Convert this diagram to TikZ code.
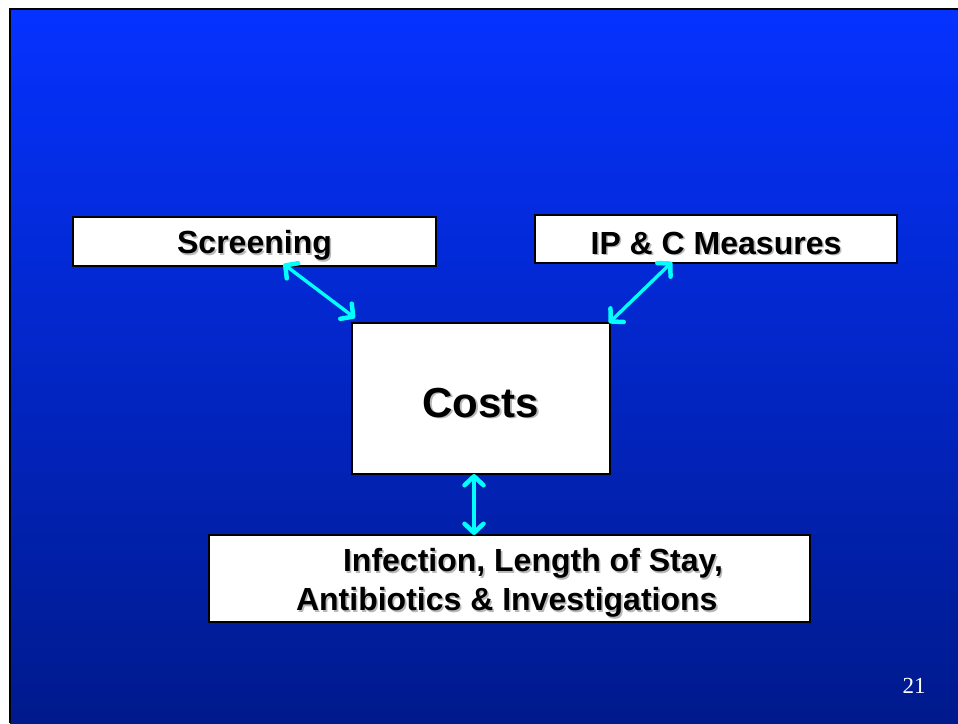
\documentclass[tikz,border=0pt]{standalone}
\usepackage{fontspec}
\setmainfont{Liberation Sans}
\newfontfamily\pagenumfont{Liberation Serif}
\usetikzlibrary{arrows.meta}
\definecolor{slidetop}{RGB}{5,50,255}
\definecolor{slidebot}{RGB}{0,26,140}
\definecolor{connc}{RGB}{0,255,255}
\definecolor{shadowgray}{RGB}{185,185,185}
\newcommand\shadowed[1]{\raisebox{-5pt}[\height][\depth]{\makebox[0pt][l]{\hspace{1.6pt}\raisebox{-1.6pt}{\color{shadowgray}#1}}#1}}
\begin{document}
\begin{tikzpicture}[x=1pt,y=-1pt,
  box/.style={draw=black, line width=2.5pt, fill=white, inner sep=0pt, outer sep=0pt,
    font=\bfseries\fontsize{32}{39}\selectfont},
  barb/.tip={Straight Barb[length=9pt,width=19pt,line width=4.5pt,round]},
  conn/.style={draw=connc, line width=3.4pt, line cap=round, barb-barb}]
\useasboundingbox (0,0) rectangle (958,723);
\fill[white] (0,0) rectangle (958,723);
\shade[top color=slidetop, bottom color=slidebot] (10,9) rectangle (958,723);
\draw[line width=2pt] (10,723) -- (10,9) -- (958,9);

\node[box, minimum width=363pt, minimum height=49pt] (scr) at (254.5,241.5) {\shadowed{Screening}};
\node[box, minimum width=362pt, minimum height=48pt] (ipc) at (716,239) {\shadowed{IP \& C Measures}};
\node[box, minimum width=258pt, minimum height=151pt, font=\bfseries\fontsize{42}{48}\selectfont] (cost) at (481,398.5) {\shadowed{Costs}};
\node[box, minimum width=601pt, minimum height=87pt, align=left] (bot) at (509.5,578.5)
  {\hspace*{47pt}\shadowed{Infection, Length of Stay,}\\\shadowed{Antibiotics \& Investigations}};

\draw[conn] ([xshift=29pt,yshift=2pt]scr.south) -- ([xshift=3pt,yshift=5pt]cost.north west);
\draw[conn] ([xshift=-44pt,yshift=1pt]ipc.south) -- ([xshift=-1pt,yshift=0pt]cost.north east);
\draw[conn] ([xshift=-7pt]cost.south) -- ([xshift=-35.5pt]bot.north);

\node[text=white, font=\pagenumfont\fontsize{23}{26}\selectfont, inner sep=0pt, anchor=base] (pg) at (914,693) {21};
\end{tikzpicture}
\end{document}
